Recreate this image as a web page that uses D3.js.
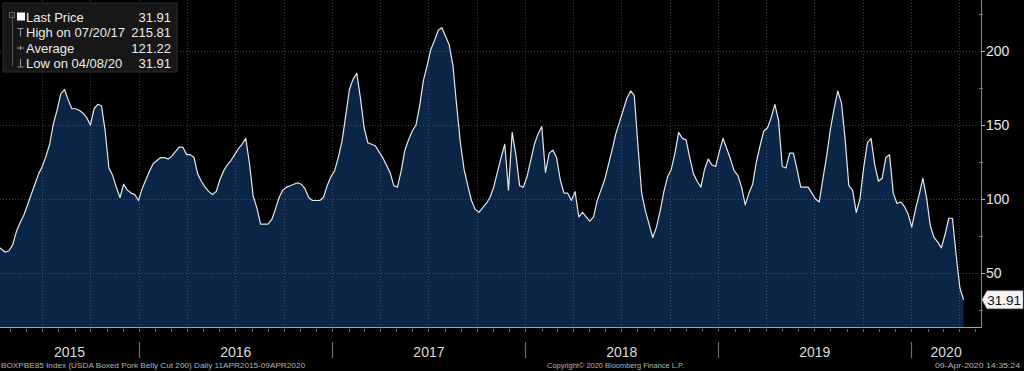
<!DOCTYPE html>
<html><head><meta charset="utf-8">
<script src="https://cdn.jsdelivr.net/npm/d3@7"></script>
<style>html,body{margin:0;padding:0;background:#000;overflow:hidden}</style>
</head><body><svg id="c" width="1024" height="371"></svg>
<script>
// ---- data ----
const startDate = "2015-04-09";   // first weekly observation
const stepDays = 7;               // weekly sampling
const prices = [
 68,66,64,65,69,78,84,89,96,103,
 110,117,122,129,137,151,160,171,174,167,
 161,161,160,158,155,150,161,164,163,146,
 121,116,108,101,110,106,104,103,99,107,
 113,119,124,126,128,128,127,129,132,135,
 135,130,130,128,117,112,108,105,103,105,
 113,119,123,126,130,134,137,141,124,102,
 94,83,83,83,86,93,101,106,108,109,
 110,111,110,107,101,99,99,99,101,109,
 115,119,128,139,156,174,181,185,168,148,
 138,137,136,132,128,123,118,109,108,119,
 133,140,146,150,163,180,190,201,207,214,
 215.81,210,204,190,163,138,120,109,99,93,
 91,94,97,101,108,118,128,137,106,145,
 130,109,108,115,126,137,144,149,118,131,
 133,128,113,104,104,99,105,88,91,88,
 85,88,99,106,113,123,133,144,152,160,
 168,173,170,136,104,92,83,74,81,92,
 105,115,120,131,145,141,140,128,117,112,
 108,120,127,123,122,132,141,134,127,119,
 116,108,96,104,110,125,136,146,148,155,
 164,153,122,121,131,131,120,108,108,108,
 104,100,98,114,129,147,161,173,165,140,
 109,106,91,100,121,138,141,123,112,114,
 128,130,104,97,98,95,90,81,93,103,
 114,101,82,74,71,67,76,87,87,62,
 40,31.91
];
const xDomain = ["2015-04-13","2020-05-12"];
const yDomain = [13.5, 234.5];
const yTicks = [50,100,150,200];
const yMinorTicks = [25,75,125,175,225];
const yearLabels = ["2015","2016","2017","2018","2019","2020"];
const legendLabels = ["Last Price","High on 07/20/17","Average","Low on 04/08/20"];
const legendValues = ["31.91","215.81","121.22","31.91"];
const lastPrice = 31.91;
const footerLeft = "BOXPBE85 Index (USDA Boxed Pork Belly Cut 200)  Daily 11APR2015-09APR2020";
const footerMid = "Copyright\u00A9 2020 Bloomberg Finance L.P.";
const footerRight = "09-Apr-2020 14:35:24";

// ---- layout ----
const W = 1024, H = 371;
const plotL = 0, plotR = 981, plotT = 0, plotB = 327;
const FONT = "'Liberation Sans', Arial, sans-serif";

const svg = d3.select("#c");
svg.append("rect").attr("width", W).attr("height", H).attr("fill", "#000");

const parse = d3.utcParse("%Y-%m-%d");
const t0 = parse(startDate);
const data = prices.map((v, i) => ({date: d3.utcDay.offset(t0, i * stepDays), v}));

const x = d3.scaleUtc().domain(xDomain.map(parse)).range([plotL, plotR]);
const y = d3.scaleLinear().domain(yDomain).range([plotB, plotT]);

svg.append("clipPath").attr("id", "clip").append("rect")
  .attr("x", plotL).attr("y", plotT).attr("width", plotR - plotL).attr("height", plotB - plotT);

const g = svg.append("g").attr("clip-path", "url(#clip)");

// area
g.append("path").datum(data)
  .attr("fill", "#0b2546")
  .attr("d", d3.area().x(d => x(d.date)).y0(plotB).y1(d => y(d.v)));

// gridlines
const quarters = d3.utcMonth.every(3).range(x.domain()[0], x.domain()[1]);
g.selectAll("line.vg").data(quarters).join("line")
  .attr("x1", d => Math.round(x(d)) + 0.5).attr("x2", d => Math.round(x(d)) + 0.5)
  .attr("y1", plotT).attr("y2", plotB)
  .attr("stroke", "#7d8a99").attr("stroke-opacity", 0.45)
  .attr("stroke-dasharray", "1,2");
g.selectAll("line.hg").data(yTicks).join("line")
  .attr("x1", plotL).attr("x2", plotR)
  .attr("y1", d => Math.round(y(d)) + 0.5).attr("y2", d => Math.round(y(d)) + 0.5)
  .attr("stroke", "#7d8a99").attr("stroke-opacity", 0.45)
  .attr("stroke-dasharray", "1,2");

// line
g.append("path").datum(data)
  .attr("fill", "none").attr("stroke", "#e4e8ee").attr("stroke-width", 1.2)
  .attr("stroke-linejoin", "round")
  .attr("d", d3.line().x(d => x(d.date)).y(d => y(d.v)));

// right axis
const ra = svg.append("g");
ra.append("line").attr("x1", plotR + 0.5).attr("x2", plotR + 0.5).attr("y1", plotT).attr("y2", plotB + 1)
  .attr("stroke", "#8a8a8a");
ra.selectAll("line.mt").data(yTicks).join("line")
  .attr("x1", plotR).attr("x2", plotR + 4)
  .attr("y1", d => Math.round(y(d)) + 0.5).attr("y2", d => Math.round(y(d)) + 0.5)
  .attr("stroke", "#bbb");
ra.selectAll("line.nt").data(yMinorTicks).join("line")
  .attr("x1", plotR - 2).attr("x2", plotR + 2)
  .attr("y1", d => Math.round(y(d)) + 0.5).attr("y2", d => Math.round(y(d)) + 0.5)
  .attr("stroke", "#777");
ra.selectAll("text").data(yTicks).join("text")
  .attr("x", plotR + 5).attr("y", d => y(d)).attr("dy", "0.36em")
  .attr("fill", "#e8e8e8").attr("font-family", FONT).attr("font-size", 14)
  .text(d => d);

// last price marker
const ly = y(lastPrice);
svg.append("path")
  .attr("d", `M${plotR + 1},${ly} L${plotR + 6},${ly - 9} L${W - 1},${ly - 9} L${W - 1},${ly + 9} L${plotR + 6},${ly + 9} Z`)
  .attr("fill", "#f4f4f4").attr("stroke", "#999").attr("stroke-width", 0.6);
svg.append("text").attr("x", W - 3).attr("y", ly).attr("dy", "0.36em")
  .attr("text-anchor", "end").attr("fill", "#111")
  .attr("font-family", FONT).attr("font-size", 13.5).text(lastPrice.toFixed(2));

// bottom axis
svg.append("line").attr("x1", plotL).attr("x2", plotR).attr("y1", plotB + 0.5).attr("y2", plotB + 0.5)
  .attr("stroke", "#9aa6b4");
const months = d3.utcMonth.range(x.domain()[0], x.domain()[1]);
svg.selectAll("line.mo").data(months).join("line")
  .attr("x1", d => Math.round(x(d)) + 0.5).attr("x2", d => Math.round(x(d)) + 0.5)
  .attr("y1", plotB + 2).attr("y2", plotB + 5)
  .attr("stroke", "#666");

const years = d3.utcYear.range(d3.utcYear.ceil(x.domain()[0]), x.domain()[1]);
svg.selectAll("line.yr").data(years).join("line")
  .attr("x1", d => Math.round(x(d)) + 0.5).attr("x2", d => Math.round(x(d)) + 0.5)
  .attr("y1", 342).attr("y2", 358)
  .attr("stroke", "#6a6a6a").attr("stroke-width", 1.2);
svg.selectAll("text.yl").data(yearLabels).join("text")
  .attr("x", d => {
    const a = Math.max(plotL, x(parse(d + "-01-01")));
    const b = Math.min(plotR, x(parse((+d + 1) + "-01-01")));
    return (a + b) / 2;
  })
  .attr("y", 357).attr("text-anchor", "middle")
  .attr("fill", "#dcdcdc").attr("font-family", FONT).attr("font-size", 14)
  .text(d => d);

// footer
const ff = svg.append("g").attr("font-family", FONT).attr("font-size", 8).attr("fill", "#b4b4b4");
ff.append("text").attr("x", 1).attr("y", 368).attr("textLength", 304).attr("lengthAdjust", "spacingAndGlyphs").text(footerLeft);
ff.append("text").attr("x", 547).attr("y", 368).attr("textLength", 137).attr("lengthAdjust", "spacingAndGlyphs").text(footerMid);
ff.append("text").attr("x", 935).attr("y", 368).attr("textLength", 85).attr("lengthAdjust", "spacingAndGlyphs").text(footerRight);

// legend
const lg = svg.append("g");
lg.append("rect").attr("x", 3).attr("y", 3).attr("width", 174).attr("height", 69)
  .attr("fill", "#171717").attr("stroke", "#2c2c2c");
const rowY = [17, 32.5, 48, 63];
lg.append("line").attr("x1", 12.5).attr("x2", 12.5).attr("y1", 14).attr("y2", 66).attr("stroke", "#555");
lg.append("rect").attr("x", 9.5).attr("y", 12.5).attr("width", 5).attr("height", 5).attr("fill", "none").attr("stroke", "#666");
lg.append("rect").attr("x", 17).attr("y", rowY[0] - 4.5).attr("width", 8).attr("height", 8).attr("fill", "#fff");
// high marker (T)
lg.append("path").attr("d", `M17.5,${rowY[1] - 4} H23.5 M20.5,${rowY[1] - 4} V${rowY[1] + 4}`).attr("stroke", "#999").attr("fill", "none");
// average marker
lg.append("path").attr("d", `M17,${rowY[2]} H24 M20.5,${rowY[2] - 2} V${rowY[2] + 2}`).attr("stroke", "#999").attr("fill", "none");
// low marker
lg.append("path").attr("d", `M17.5,${rowY[3] + 4} H23.5 M20.5,${rowY[3] - 4} V${rowY[3] + 4}`).attr("stroke", "#999").attr("fill", "none");
lg.selectAll("text.ll").data(legendLabels).join("text")
  .attr("x", 26).attr("y", (d, i) => rowY[i]).attr("dy", "0.36em")
  .attr("fill", "#ececec").attr("font-family", FONT).attr("font-size", 13).text(d => d);
lg.selectAll("text.lv").data(legendValues).join("text")
  .attr("x", 171).attr("y", (d, i) => rowY[i]).attr("dy", "0.36em").attr("text-anchor", "end")
  .attr("fill", "#ececec").attr("font-family", FONT).attr("font-size", 13).text(d => d);
</script>
</body></html>
